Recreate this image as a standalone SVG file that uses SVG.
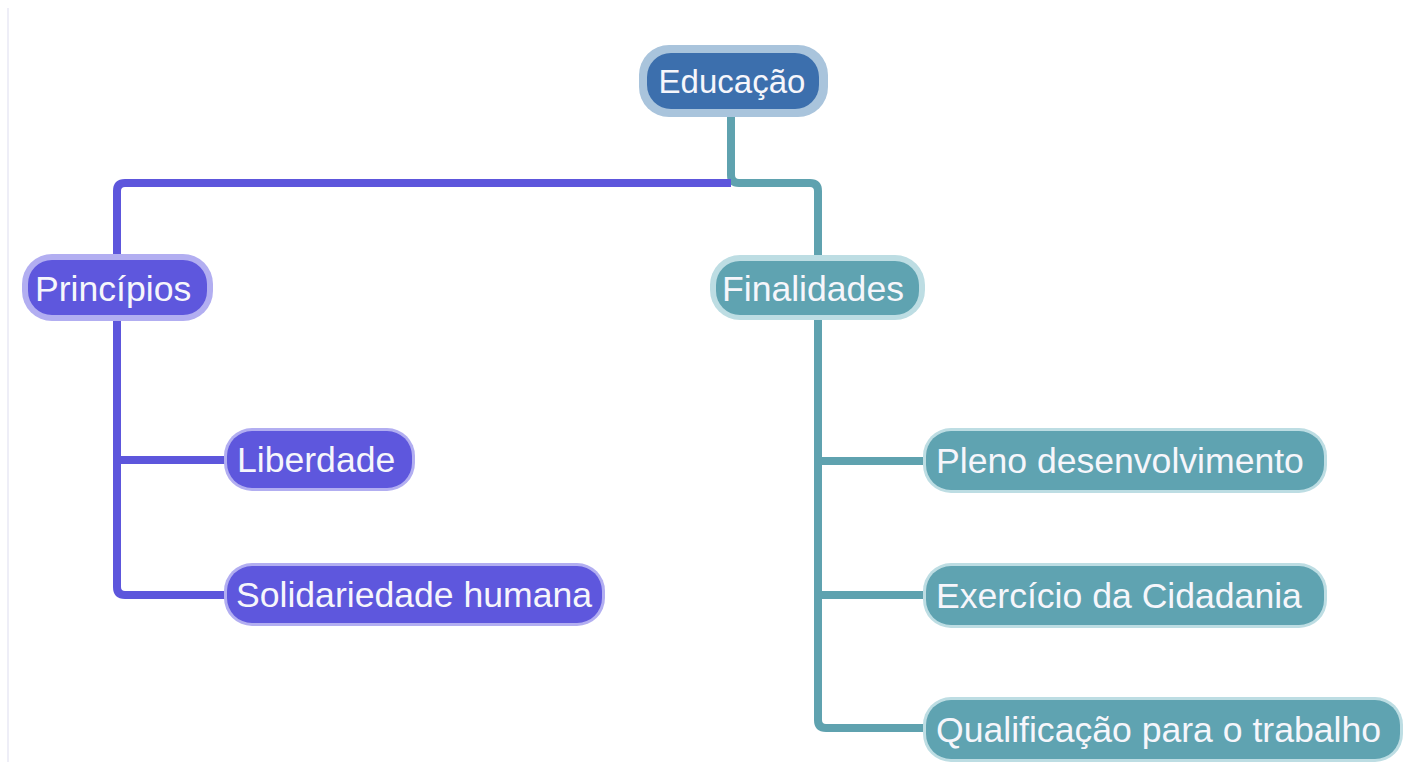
<svg xmlns="http://www.w3.org/2000/svg" width="1421" height="762" viewBox="0 0 1421 762">
<style>
.t{font-family:"Liberation Sans",Arial,sans-serif;font-size:35.6px;fill:#f6f6fb}
.te{font-family:"Liberation Sans",Arial,sans-serif;font-size:33px;fill:#f6f6fb}
.pur{fill:#5e57dd}
.purh{fill:#b2aef1}
.teal{fill:#5fa3b1}
.tealh{fill:#bddde3}
.c{fill:none;stroke-width:8;stroke-linejoin:round;stroke-linecap:butt}
</style>
<rect width="1421" height="762" fill="#ffffff"/>
<rect x="7" y="8" width="2" height="754" fill="#eeeef7"/>
<g id="connectors">
<path class="c" stroke="#5fa2af" d="M731,112 V175 Q731,183 739,183 H810 Q818,183 818,191 V720 Q818,728 826,728 H930"/>
<path class="c" stroke="#5fa2af" d="M818,461 H930 M818,595 H930"/>
<path class="c" stroke="#5d56dc" d="M731,183 H125 Q117,183 117,191 V587 Q117,595 125,595 H230"/>
<path class="c" stroke="#5d56dc" d="M117,460 H230"/>
</g>
<g id="educacao">
<rect x="639" y="45" width="189" height="72" rx="30" fill="#a9c4dc"/>
<rect x="647" y="53" width="172" height="56" rx="24" fill="#3c6fad"/>
<text class="te" x="732" y="93" text-anchor="middle">Educação</text>
</g>
<g id="principios">
<rect x="22" y="254" width="191" height="67" rx="30" class="purh"/>
<rect x="28" y="260" width="179" height="55" rx="24" class="pur"/>
<text class="t" x="35" y="301">Princípios</text>
</g>
<g id="finalidades">
<rect x="710" y="255" width="215" height="65" rx="30" class="tealh"/>
<rect x="716" y="261" width="203" height="54" rx="24" class="teal"/>
<text class="t" x="722" y="301">Finalidades</text>
</g>
<g id="liberdade">
<rect x="224" y="428" width="191" height="63" rx="28" class="purh"/>
<rect x="227" y="431" width="185" height="57" rx="25" class="pur"/>
<text class="t" x="237" y="472">Liberdade</text>
</g>
<g id="solidariedade">
<rect x="224" y="563" width="381" height="63" rx="28" class="purh"/>
<rect x="227" y="566" width="375" height="57" rx="25" class="pur"/>
<text class="t" x="236" y="607">Solidariedade humana</text>
</g>
<g id="pleno">
<rect x="923" y="428" width="404" height="65" rx="28" class="tealh"/>
<rect x="926" y="431" width="398" height="59" rx="25" class="teal"/>
<text class="t" x="936" y="473">Pleno desenvolvimento</text>
</g>
<g id="exercicio">
<rect x="923" y="563" width="404" height="65" rx="28" class="tealh"/>
<rect x="926" y="566" width="398" height="59" rx="25" class="teal"/>
<text class="t" x="936" y="608">Exercício da Cidadania</text>
</g>
<g id="qualificacao">
<rect x="923" y="697" width="480" height="65" rx="28" class="tealh"/>
<rect x="926" y="700" width="474" height="59" rx="25" class="teal"/>
<text class="t" x="936" y="742">Qualificação para o trabalho</text>
</g>
</svg>
